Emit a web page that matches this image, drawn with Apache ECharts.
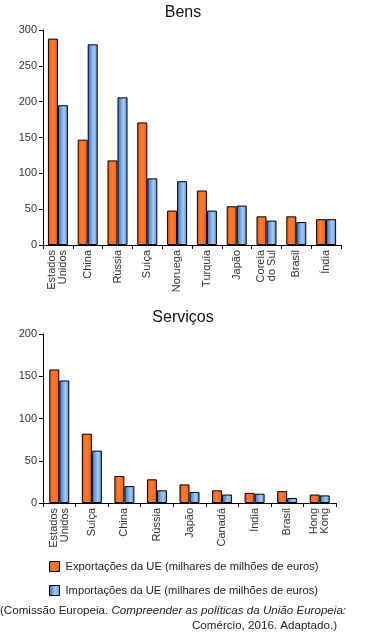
<!DOCTYPE html>
<html>
<head>
<meta charset="utf-8">
<script src="https://cdn.jsdelivr.net/npm/echarts@6/dist/echarts.min.js"></script>
<style>
html,body{margin:0;padding:0;background:#fff;}
#c{width:366px;height:635px;}
</style>
</head>
<body>
<div id="c"></div>
<script>
const goodsCategories = ['Estados\nUnidos','China','Rússia','Suíça','Noruega','Turquia','Japão','Coreia\ndo Sul','Brasil','Índia'];
const goodsExports = [288, 147, 118, 171, 48, 76, 54, 40, 40, 36];
const goodsImports = [195, 280, 206, 93, 89, 48, 55, 34, 32, 36];

const servCategories = ['Estados\nUnidos','Suíça','China','Rússia','Japão','Canadá','Índia','Brasil','Hong\nKong'];
const servExports = [158, 82, 32, 28, 22, 15, 12, 14, 10];
const servImports = [145, 62, 20, 15, 13, 10, 11, 6, 9];

const exportName = 'Exportações da UE (milhares de milhões de euros)';
const importName = 'Importações da UE (milhares de milhões de euros)';

const FONT = '"Liberation Sans", Arial, sans-serif';

const orangeFill = new echarts.graphic.LinearGradient(0,0,1,0,[
  {offset:0,color:'#e8561a'},{offset:0.45,color:'#ff7d2e'},{offset:1,color:'#ee5e1e'}]);
const blueFill = new echarts.graphic.LinearGradient(0,0,1,0,[
  {offset:0,color:'#3a69b8'},{offset:0.6,color:'#a2cdf4'},{offset:1,color:'#5a8cd4'}]);

function xAx(idx, cats){
  return {
    type:'category', gridIndex:idx, data:cats,
    axisLine:{lineStyle:{color:'#000',width:1}},
    axisTick:{show:true,length:4,lineStyle:{color:'#000'},alignWithLabel:false},
    axisLabel:{rotate:90,interval:0,color:'#333',fontFamily:FONT,fontSize:11,margin:5,lineHeight:11}
  };
}
function yAx(idx, max){
  return {
    type:'value', gridIndex:idx, min:0, max:max, interval:50,
    axisLine:{show:true,lineStyle:{color:'#000',width:1}},
    axisTick:{show:true,length:4,lineStyle:{color:'#000'}},
    splitLine:{show:false},
    axisLabel:{color:'#333',fontFamily:FONT,fontSize:11,margin:6}
  };
}
function bar(name, data, idx, fill){
  return {
    name:name, type:'bar', xAxisIndex:idx, yAxisIndex:idx, data:data,
    barWidth:10, barGap:'0%',
    itemStyle:{color:fill,borderColor:'#000',borderWidth:1},
    emphasis:{disabled:true}
  };
}

const chart = echarts.init(document.getElementById('c'), null, {renderer:'canvas'});
chart.setOption({
  animation:false,
  title:[
    {text:'Bens',left:'center',top:0,textStyle:{fontFamily:FONT,fontSize:16,fontWeight:'normal',color:'#111'}},
    {text:'Serviços',left:'center',top:305,textStyle:{fontFamily:FONT,fontSize:16,fontWeight:'normal',color:'#111'}}
  ],
  grid:[
    {left:43,width:298,top:30,height:215},
    {left:43,width:293,top:334,height:169}
  ],
  xAxis:[xAx(0,goodsCategories), xAx(1,servCategories)],
  yAxis:[yAx(0,300), yAx(1,200)],
  legend:{
    orient:'vertical', left:44, top:556, itemWidth:10, itemHeight:10, itemGap:13,
    icon:'rect',
    data:[
      {name:exportName,itemStyle:{color:orangeFill,borderColor:'#000',borderWidth:1}},
      {name:importName,itemStyle:{color:blueFill,borderColor:'#000',borderWidth:1}}
    ],
    textStyle:{fontFamily:FONT,fontSize:11.2,color:'#222',padding:[0,0,0,1]}
  },
  graphic:[
    {type:'text',left:0,top:605,style:{
      text:'{a|(Comissão Europeia. }{b|Compreender as políticas da União Europeia:}',
      rich:{a:{fontFamily:FONT,fontSize:11.6,fill:'#222'},b:{fontFamily:FONT,fontSize:11.6,fontStyle:'italic',fill:'#222'}}
    }},
    {type:'text',right:29,top:620,style:{
      text:'Comércio, 2016. Adaptado.)',fontFamily:FONT,fontSize:11.6,fill:'#222'
    }}
  ],
  series:[
    bar(exportName, goodsExports, 0, orangeFill),
    bar(importName, goodsImports, 0, blueFill),
    bar(exportName, servExports, 1, orangeFill),
    bar(importName, servImports, 1, blueFill)
  ]
});
</script>
</body>
</html>
